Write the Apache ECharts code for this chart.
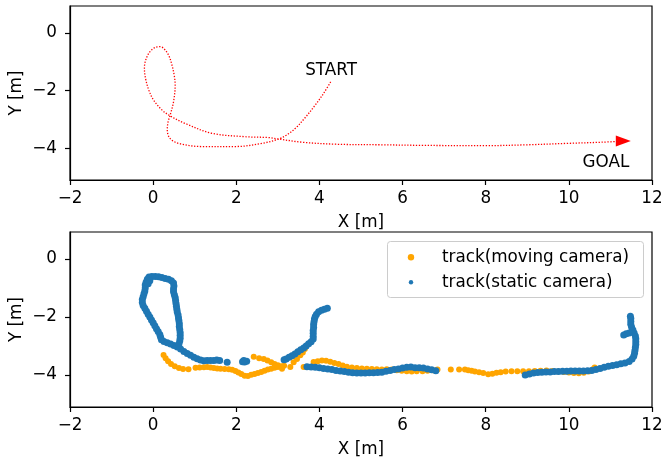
<!DOCTYPE html>
<html><head><meta charset="utf-8">
<script src="https://cdn.jsdelivr.net/npm/echarts@6/dist/echarts.min.js"></script>
<style>html,body{margin:0;padding:0;background:#fff}#c{width:663px;height:459px}</style>
</head><body><div id="c"></div>
<script>
// ---- data ----
const xTicks = [-2, 0, 2, 4, 6, 8, 10, 12];
const yTicks = [-4, -2, 0];
const plannedPath = [[4.27,-1.70],[4.10,-2.10],[3.90,-2.50],[3.65,-2.95],[3.42,-3.31],[3.20,-3.55],[3.02,-3.68],[2.62,-3.83],[1.98,-3.94],[1.17,-3.94],[0.61,-3.83],[0.40,-3.65],[0.34,-3.35],[0.36,-3.08],[0.41,-2.85],[0.49,-2.39],[0.53,-1.81],[0.51,-1.50],[0.45,-1.10],[0.37,-0.77],[0.26,-0.55],[0.17,-0.48],[0.06,-0.50],[-0.08,-0.66],[-0.18,-0.95],[-0.21,-1.23],[-0.18,-1.60],[-0.10,-2.00],[0.01,-2.33],[0.21,-2.67],[0.41,-2.88],[0.77,-3.14],[1.41,-3.48],[2.22,-3.60],[2.78,-3.63],[3.02,-3.68],[3.58,-3.79],[4.39,-3.86],[5.50,-3.88],[6.50,-3.90],[7.96,-3.91],[9.00,-3.88],[9.97,-3.83],[10.80,-3.79],[11.20,-3.76]];
const goalArrow = [[11.31,-3.75]];
const startLabel = [[4.28,-1.32]];
const goalLabel = [[10.89,-4.51]];
const movingTrack = [[0.25,-3.31],[0.30,-3.42],[0.36,-3.52],[0.43,-3.62],[0.52,-3.70],[0.62,-3.76],[0.72,-3.79],[0.85,-3.80],[1.02,-3.75],[1.12,-3.74],[1.22,-3.73],[1.30,-3.72],[1.38,-3.74],[1.46,-3.76],[1.54,-3.77],[1.62,-3.78],[1.72,-3.79],[1.82,-3.80],[1.90,-3.82],[1.98,-3.86],[2.05,-3.91],[2.12,-3.96],[2.20,-4.02],[2.28,-4.03],[2.36,-3.99],[2.44,-3.96],[2.52,-3.93],[2.60,-3.89],[2.68,-3.85],[2.76,-3.81],[2.84,-3.78],[2.92,-3.75],[3.00,-3.72],[3.08,-3.70],[3.15,-3.68],[2.42,-3.37],[2.55,-3.42],[2.66,-3.45],[2.75,-3.50],[2.84,-3.56],[2.92,-3.62],[3.00,-3.66],[3.10,-3.78],[3.30,-3.72],[3.38,-3.56],[3.46,-3.45],[3.54,-3.32],[3.60,-3.22],[3.65,-3.10],[3.62,-3.72],[3.86,-3.55],[3.96,-3.52],[4.06,-3.50],[4.16,-3.51],[4.26,-3.54],[4.36,-3.58],[4.46,-3.62],[4.56,-3.67],[4.66,-3.71],[4.78,-3.74],[4.90,-3.76],[5.02,-3.77],[5.14,-3.78],[5.26,-3.79],[5.38,-3.80],[5.50,-3.81],[5.62,-3.80],[5.74,-3.81],[5.86,-3.83],[5.98,-3.85],[6.10,-3.87],[6.22,-3.88],[6.34,-3.87],[6.48,-3.87],[6.60,-3.85],[6.72,-3.83],[6.84,-3.81],[7.16,-3.81],[7.36,-3.81],[7.50,-3.81],[7.58,-3.83],[7.66,-3.85],[7.74,-3.88],[7.84,-3.90],[7.94,-3.93],[8.06,-3.97],[8.16,-3.95],[8.26,-3.92],[8.36,-3.90],[8.48,-3.88],[8.62,-3.87],[8.76,-3.87],[8.90,-3.87],[9.04,-3.87],[9.18,-3.86],[9.32,-3.85],[9.46,-3.84],[9.60,-3.86],[9.74,-3.88],[9.88,-3.89],[10.00,-3.91],[10.12,-3.93],[10.24,-3.94],[10.36,-3.92],[10.48,-3.88],[10.58,-3.80],[10.62,-3.74]];
const staticTrack = [[4.19,-1.70],[4.12,-1.73],[4.05,-1.77],[3.98,-1.82],[3.93,-1.90],[3.90,-1.98],[3.88,-2.07],[3.87,-2.16],[3.86,-2.26],[3.86,-2.36],[3.85,-2.46],[3.85,-2.56],[3.85,-2.66],[3.85,-2.76],[3.80,-2.85],[3.74,-2.92],[3.68,-3.00],[3.62,-3.07],[3.55,-3.13],[3.48,-3.20],[3.41,-3.27],[3.34,-3.33],[3.27,-3.39],[3.20,-3.45],[3.15,-3.47],
[2.25,-3.52],[2.20,-3.55],[2.15,-3.54],[2.18,-3.50],[1.78,-3.56],
[1.60,-3.50],[1.53,-3.48],[1.46,-3.50],[1.38,-3.50],[1.30,-3.50],[1.22,-3.51],[1.14,-3.48],[1.06,-3.44],[0.98,-3.39],[0.90,-3.32],[0.82,-3.26],[0.74,-3.19],[0.66,-3.10],[0.58,-3.03],[0.50,-2.98],[0.42,-2.93],[0.34,-2.89],[0.26,-2.84],[0.20,-2.78],[0.18,-2.70],[0.16,-2.60],[0.12,-2.50],[0.08,-2.40],[0.04,-2.30],[0.00,-2.20],[-0.04,-2.10],[-0.08,-2.00],[-0.12,-1.90],[-0.16,-1.80],[-0.20,-1.70],[-0.24,-1.60],[-0.26,-1.50],[-0.26,-1.40],[-0.24,-1.30],[-0.22,-1.20],[-0.20,-1.10],[-0.19,-1.00],[-0.19,-0.90],[-0.17,-0.80],[-0.14,-0.70],[-0.10,-0.62],[-0.03,-0.60],[0.05,-0.60],[0.13,-0.61],[0.21,-0.64],[0.29,-0.67],[0.37,-0.70],[0.44,-0.75],[0.49,-0.83],[0.50,-0.93],[0.49,-1.03],[0.49,-1.13],[0.51,-1.23],[0.53,-1.33],[0.54,-1.43],[0.55,-1.53],[0.56,-1.63],[0.57,-1.73],[0.58,-1.83],[0.60,-1.93],[0.61,-2.03],[0.62,-2.13],[0.63,-2.23],[0.63,-2.33],[0.64,-2.43],[0.65,-2.53],[0.65,-2.63],[0.65,-2.73],[0.64,-2.83],[0.62,-2.93],[-0.08,-0.75],[-0.12,-0.85],
[3.70,-3.71],[3.80,-3.72],[3.90,-3.73],[4.00,-3.75],[4.10,-3.77],[4.20,-3.79],[4.30,-3.81],[4.40,-3.84],[4.50,-3.86],[4.60,-3.88],[4.70,-3.90],[4.80,-3.92],[4.90,-3.93],[5.00,-3.93],[5.10,-3.93],[5.20,-3.92],[5.30,-3.92],[5.40,-3.91],[5.50,-3.90],[5.60,-3.87],[5.70,-3.84],[5.80,-3.81],[5.90,-3.79],[6.00,-3.76],[6.10,-3.73],[6.20,-3.72],[6.30,-3.75],[6.40,-3.75],[6.50,-3.76],[6.60,-3.79],[6.70,-3.82],[6.80,-3.85],
[8.95,-4.00],[9.05,-3.96],[9.15,-3.93],[9.25,-3.91],[9.35,-3.90],[9.45,-3.89],[9.55,-3.89],[9.65,-3.88],[9.75,-3.88],[9.85,-3.87],[9.95,-3.87],[10.05,-3.86],[10.15,-3.86],[10.25,-3.86],[10.35,-3.86],[10.45,-3.85],[10.55,-3.84],[10.65,-3.81],[10.75,-3.77],[10.85,-3.73],[10.95,-3.70],[11.05,-3.67],[11.15,-3.64],[11.25,-3.61],[11.35,-3.58],[11.45,-3.53],[11.52,-3.45],[11.56,-3.35],[11.58,-3.25],[11.59,-3.15],[11.60,-3.05],[11.61,-2.95],[11.61,-2.85],[11.61,-2.75],[11.60,-2.65],[11.57,-2.55],[11.54,-2.45],[11.51,-2.35],[11.49,-2.25],[11.49,-2.15],[11.49,-2.05],[11.48,-1.97],[11.45,-2.55],[11.38,-2.58],[11.32,-2.62]];
const seriesNames = ['track(moving camera)', 'track(static camera)'];

// ---- chart ----
const FONT = 'DejaVu Sans';
const FS = 16.8;
const fmt = v => (v < 0 ? '\u2212' + Math.abs(v) : String(v));
function xAxis(gi) {
  return {
    type: 'value', gridIndex: gi, min: -2, max: 12, interval: 2,
    name: 'X [m]', nameLocation: 'middle', nameGap: 34,
    nameTextStyle: { fontFamily: FONT, fontSize: FS, color: '#000' },
    axisLine: { show: true, onZero: false, lineStyle: { color: '#000', width: 1.2 } },
    axisTick: { show: true, inside: false, length: 5, lineStyle: { color: '#000', width: 1.2 } },
    axisLabel: { fontFamily: FONT, fontSize: FS, color: '#000', margin: 10, formatter: fmt, customValues: xTicks },
    splitLine: { show: false }
  };
}
function yAxis(gi) {
  return {
    type: 'value', gridIndex: gi, min: -5.1, max: 0.93,
    name: 'Y [m]', nameLocation: 'middle', nameGap: 45, nameRotate: 90, nameMoveOverlap: false,
    nameTextStyle: { fontFamily: FONT, fontSize: FS, color: '#000' },
    axisLine: { show: true, onZero: false, lineStyle: { color: '#000', width: 1.2 } },
    axisTick: { show: true, inside: false, length: 5, customValues: yTicks, lineStyle: { color: '#000', width: 1.2 } },
    axisLabel: { fontFamily: FONT, fontSize: FS, color: '#000', margin: 13, formatter: fmt, customValues: yTicks },
    splitLine: { show: false }
  };
}
const chart = echarts.init(document.getElementById('c'), null, { renderer: 'canvas' });
chart.setOption({
  animation: false,
  backgroundColor: '#fff',
  grid: [
    { left: 70, top: 6, width: 582, height: 174, show: true, borderColor: '#000', borderWidth: 1.2, backgroundColor: 'transparent', containLabel: false, outerBoundsMode: 'none' },
    { left: 70, top: 232, width: 582, height: 175, show: true, borderColor: '#000', borderWidth: 1.2, backgroundColor: 'transparent', containLabel: false, outerBoundsMode: 'none' }
  ],
  xAxis: [xAxis(0), xAxis(1)],
  yAxis: [yAxis(0), yAxis(1)],
  graphic: [
    { type: 'rect', left: 387, top: 241, z: 100,
      shape: { width: 256, height: 56, r: 3 },
      style: { fill: 'rgba(255,255,255,0.8)', stroke: '#cccccc', lineWidth: 1 } },
    { type: 'circle', z: 101, shape: { cx: 411, cy: 257.3, r: 3.2 }, style: { fill: '#ffa500' } },
    { type: 'circle', z: 101, shape: { cx: 411, cy: 282.3, r: 2.2 }, style: { fill: '#1f77b4' } },
    { type: 'text', z: 101, x: 442, y: 257.3, style: { text: seriesNames[0], font: FS + 'px "DejaVu Sans"', fill: '#000', verticalAlign: 'middle', align: 'left' } },
    { type: 'text', z: 101, x: 442, y: 282.3, style: { text: seriesNames[1], font: FS + 'px "DejaVu Sans"', fill: '#000', verticalAlign: 'middle', align: 'left' } }
  ],
  series: [
    { type: 'line', xAxisIndex: 0, yAxisIndex: 0, data: plannedPath, smooth: 0.35, showSymbol: false, symbol: 'none',
      lineStyle: { color: '#ff0000', width: 1.3, type: [1.3, 1.6], opacity: 1 } },
    { type: 'scatter', xAxisIndex: 0, yAxisIndex: 0, data: goalArrow, symbol: 'path://M0,0 L15,5.5 L0,11 Z', symbolSize: [15, 11],
      itemStyle: { color: '#ff0000', opacity: 1 } },
    { type: 'scatter', xAxisIndex: 0, yAxisIndex: 0, data: startLabel, symbolSize: 1, itemStyle: { color: 'rgba(0,0,0,0)', opacity: 1 },
      label: { show: true, position: 'inside', formatter: 'START', fontFamily: FONT, fontSize: FS, color: '#000', opacity: 1 } },
    { type: 'scatter', xAxisIndex: 0, yAxisIndex: 0, data: goalLabel, symbolSize: 1, itemStyle: { color: 'rgba(0,0,0,0)', opacity: 1 },
      label: { show: true, position: 'inside', formatter: 'GOAL', fontFamily: FONT, fontSize: FS, color: '#000', opacity: 1 } },
    { name: seriesNames[0], type: 'scatter', xAxisIndex: 1, yAxisIndex: 1, data: movingTrack, symbolSize: 6,
      itemStyle: { color: '#ffa500', opacity: 1 } },
    { name: seriesNames[1], type: 'scatter', xAxisIndex: 1, yAxisIndex: 1, data: staticTrack, symbolSize: 7,
      itemStyle: { color: '#1f77b4', opacity: 1 } }
  ]
});
</script></body></html>
